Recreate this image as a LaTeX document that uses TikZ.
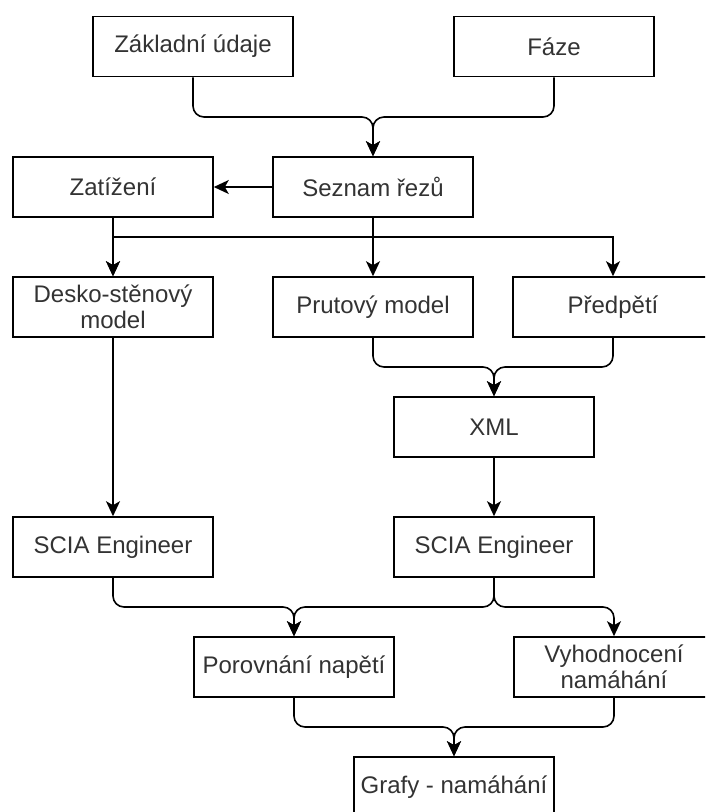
\documentclass[tikz,border=0pt]{standalone}
\usepackage{fontspec}
\setmainfont{Liberation Sans}
\usetikzlibrary{arrows.meta}
\begin{document}
\begin{tikzpicture}[x=1pt,y=-1pt,
  box/.style={draw=black, line width=1.6pt, fill=white, minimum width=200pt, minimum height=60pt,
    inner sep=2pt, align=center, text=black!80, font=\fontsize{24}{26}\selectfont},
  conn/.style={line width=1.6pt, draw=black, -{Stealth[length=15pt,width=14pt,inset=4pt]}},
  rc/.style={rounded corners=11pt}]
\useasboundingbox (0,0) rectangle (705,812);
\clip (0,0) rectangle (705,812);
\fill[white] (0,0) rectangle (705,812);

\node[box] (zak) at (193,46.5) {Základní údaje};
\node[box] (faze) at (554,46.5) {Fáze};
\node[box] (zat) at (113,187) {Zatížení};
\node[box] (sez) at (373,187) {Seznam řezů};
\node[box] (desko) at (113,307) {Desko-stěnový\\model};
\node[box] (prut) at (373,307) {Prutový model};
\node[box] (pred) at (613,307) {Předpětí};
\node[box] (xml) at (494,427) {XML};
\node[box] (sciaL) at (113,547) {SCIA Engineer};
\node[box] (sciaR) at (494,547) {SCIA Engineer};
\node[box] (por) at (294,667) {Porovnání napětí};
\node[box] (vyh) at (614,667) {Vyhodnocení\\namáhání};
\node[box] (graf) at (454,787) {Grafy - namáhání};

\coordinate (j1) at (373,117);
\coordinate (j2) at (373,237);
\coordinate (j3) at (494,367);
\coordinate (j4) at (294,607);
\coordinate (j5) at (494,607);
\coordinate (j6) at (614,607);
\coordinate (j7) at (454,727);

\draw[conn,rc] (zak.south) |- (j1) -- (sez.north);
\draw[conn,rc] (faze.south) |- (j1) -- (sez.north);
\draw[conn] (sez.west) -- (zat.east);
\draw[conn] (zat.south) -- (desko.north);
\draw[conn] (sez.south) -- (prut.north);
\draw[conn] (sez.south) -- (j2) -| (desko.north);
\draw[conn] (sez.south) -- (j2) -| (pred.north);
\draw[conn,rc] (prut.south) |- (j3) -- (xml.north);
\draw[conn,rc] (pred.south) |- (j3) -- (xml.north);
\draw[conn] (desko.south) -- (sciaL.north);
\draw[conn] (xml.south) -- (sciaR.north);
\draw[conn,rc] (sciaL.south) |- (j4) -- (por.north);
\draw[conn,rc] (sciaR.south) |- (j4) -- (por.north);
\draw[conn,rc] (sciaR.south) |- (j6) -- (vyh.north);
\draw[conn,rc] (por.south) |- (j7) -- (graf.north);
\draw[conn,rc] (vyh.south) |- (j7) -- (graf.north);
\end{tikzpicture}
\end{document}
